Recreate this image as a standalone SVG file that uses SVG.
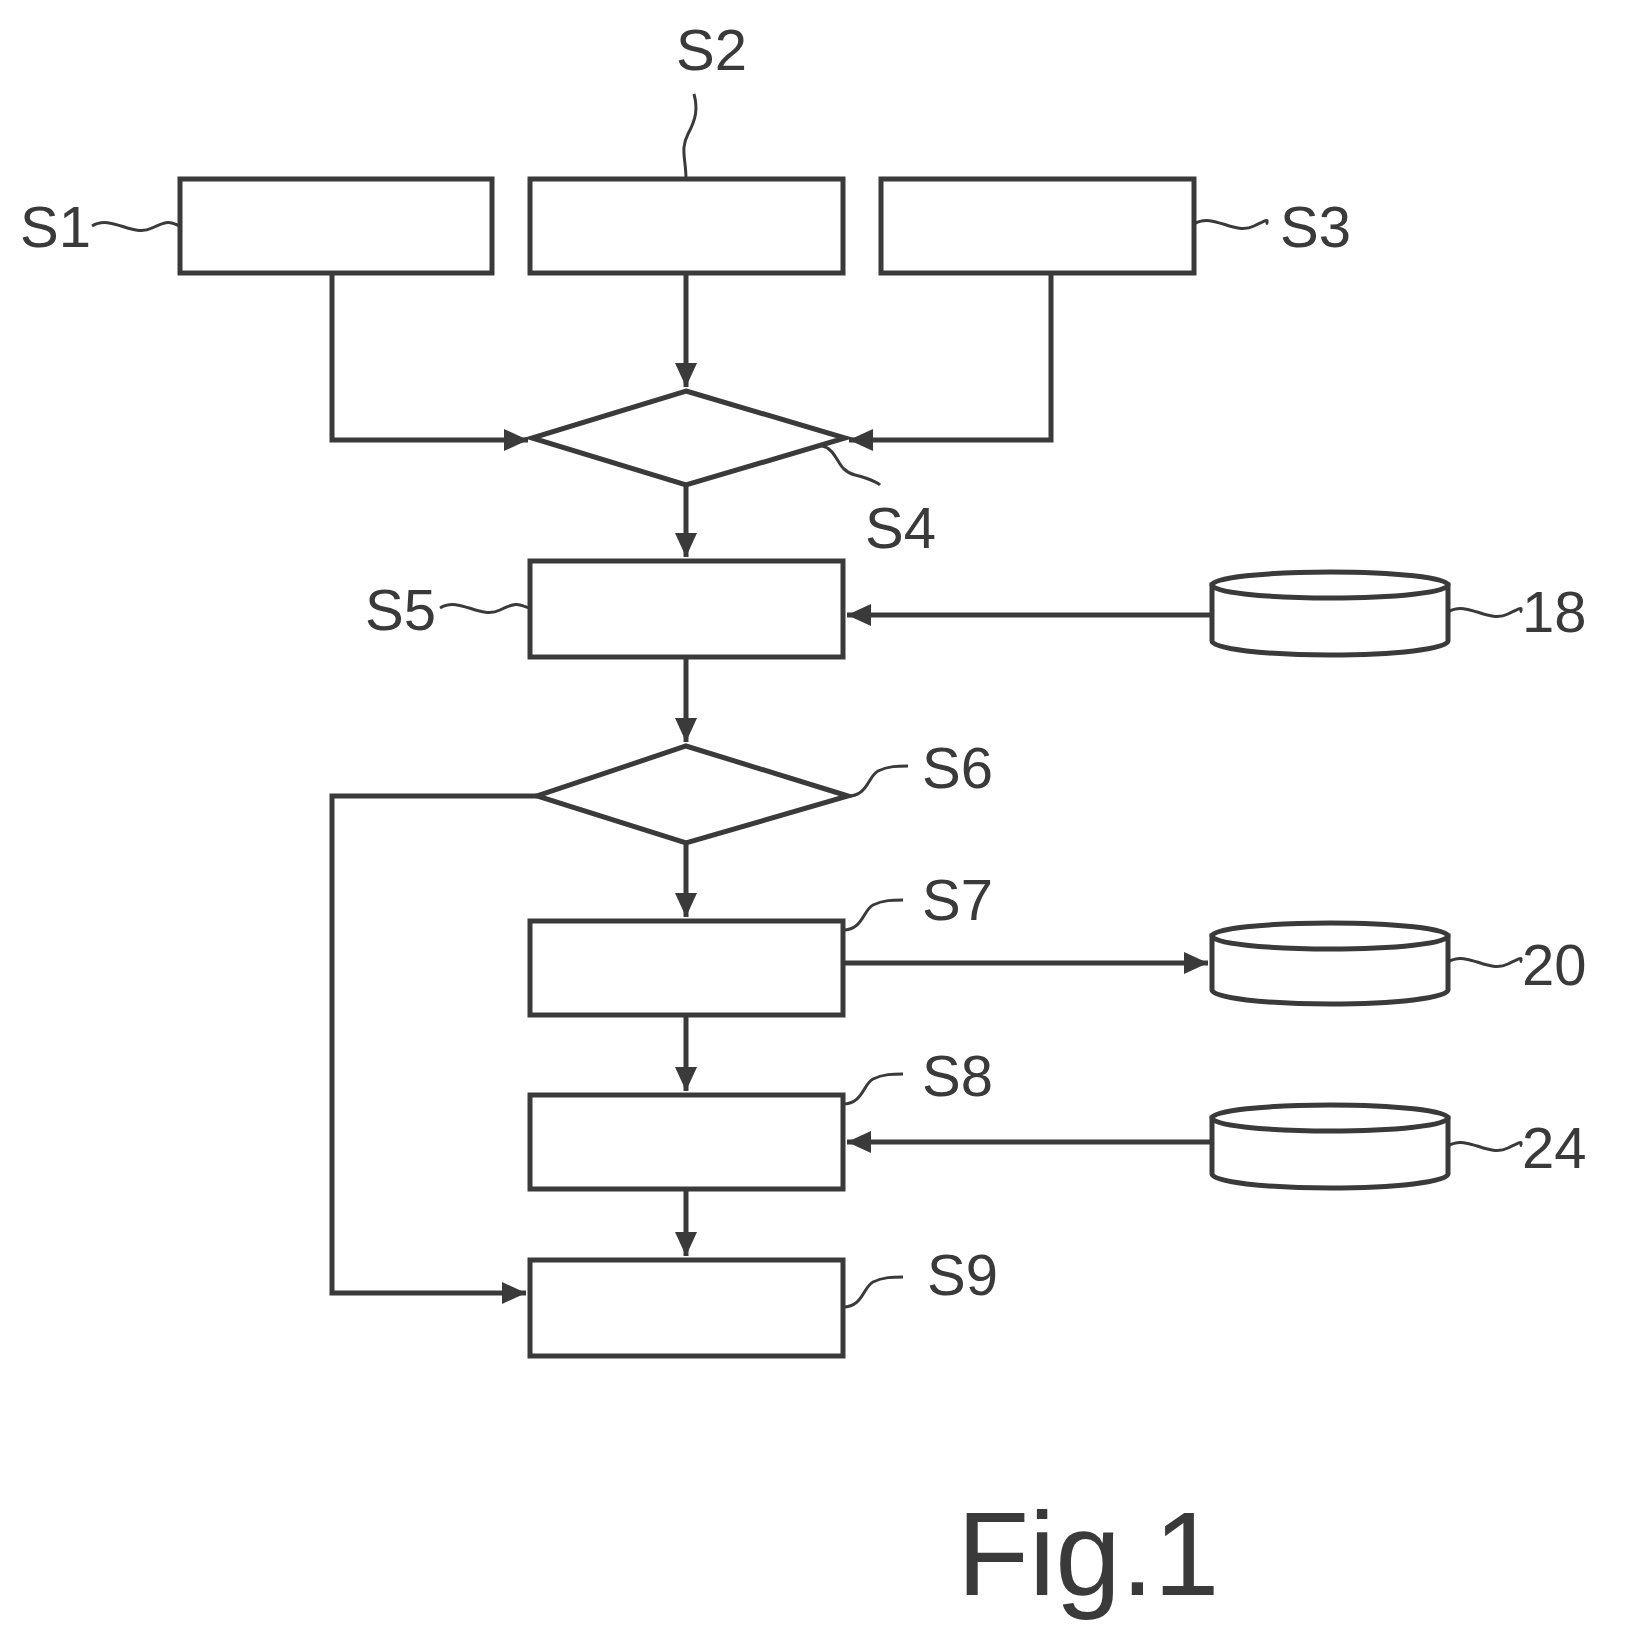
<svg xmlns="http://www.w3.org/2000/svg" width="1627" height="1651" viewBox="0 0 1627 1651">
<defs>
<style>
.n{fill:#fff;stroke:#3a3a3a;stroke-width:5}
.c{fill:none;stroke:#3a3a3a;stroke-width:5}
.l{fill:none;stroke:#3a3a3a;stroke-width:3}
.t{font-family:"Liberation Sans",Arial,sans-serif;font-size:58px;fill:#3a3a3a}
</style>
<marker id="a" markerWidth="8" markerHeight="8" refX="7" refY="4" orient="auto" markerUnits="userSpaceOnUse" viewBox="0 0 8 8"><path d="M0,0L8,4L0,8z" fill="#3a3a3a"/></marker>
<marker id="b" markerWidth="26" markerHeight="22" refX="24" refY="11" orient="auto" markerUnits="userSpaceOnUse"><path d="M0,0L24,11L0,22z" fill="#3a3a3a"/></marker>
</defs>
<rect width="1627" height="1651" fill="#fff"/>
<g id="connectors">
<path class="c" d="M332,273V440H528" marker-end="url(#b)"/>
<path class="c" d="M686,273V387" marker-end="url(#b)"/>
<path class="c" d="M1051,273V440H849" marker-end="url(#b)"/>
<path class="c" d="M686,485V557" marker-end="url(#b)"/>
<path class="c" d="M1212,615H847" marker-end="url(#b)"/>
<path class="c" d="M686,657V742" marker-end="url(#b)"/>
<path class="c" d="M686,843V917" marker-end="url(#b)"/>
<path class="c" d="M843,963H1208" marker-end="url(#b)"/>
<path class="c" d="M686,1015V1091" marker-end="url(#b)"/>
<path class="c" d="M1212,1142H847" marker-end="url(#b)"/>
<path class="c" d="M686,1189V1256" marker-end="url(#b)"/>
<path class="c" d="M537,796H332V1293H526" marker-end="url(#b)"/>
</g>
<g id="S1"><rect class="n" x="180" y="179" width="312" height="94"/><path class="l" d="M92,226c20,-12 40,12 60,2s20,-4 28,-2"/><text class="t" x="20" y="247">S1</text></g>
<g id="S2"><rect class="n" x="530" y="179" width="313" height="94"/><path class="l" d="M686,179c0,-20 -6,-30 2,-45s10,-25 6,-40"/><text class="t" x="676" y="70">S2</text></g>
<g id="S3"><rect class="n" x="881" y="179" width="313" height="94"/><path class="l" d="M1194,224c20,-12 40,12 60,2s10,-4 14,-2"/><text class="t" x="1280" y="247">S3</text></g>
<g id="S4"><path class="n" d="M686,391L845,438L686,485L532,438z"/><path class="l" d="M820,445c20,5 15,25 35,30s25,10 25,10"/><text class="t" x="865" y="548">S4</text></g>
<g id="S5"><rect class="n" x="530" y="561" width="313" height="96"/><path class="l" d="M440,608c20,-12 40,12 60,2s20,-4 30,-2"/><text class="t" x="365" y="630">S5</text></g>
<g id="n18"><path class="n" d="M1212,585v56a118,14 0 0 0 236,0v-56z"/><ellipse class="n" cx="1330" cy="585" rx="118" ry="13"/><path class="l" d="M1448,612c20,-12 40,12 60,2s10,-4 14,-2"/><text class="t" x="1522" y="632">18</text></g>
<g id="S6"><path class="n" d="M686,746L848,796L686,843L537,796z"/><path class="l" d="M848,796c20,0 20,-20 30,-25s20,-5 30,-5"/><text class="t" x="922" y="788">S6</text></g>
<g id="S7"><rect class="n" x="530" y="921" width="313" height="94"/><path class="l" d="M843,930c20,0 20,-20 30,-25s20,-5 30,-5"/><text class="t" x="922" y="920">S7</text></g>
<g id="n20"><path class="n" d="M1212,936v54a118,14 0 0 0 236,0v-54z"/><ellipse class="n" cx="1330" cy="936" rx="118" ry="13"/><path class="l" d="M1448,962c20,-12 40,12 60,2s10,-4 14,-2"/><text class="t" x="1522" y="985">20</text></g>
<g id="S8"><rect class="n" x="530" y="1095" width="313" height="94"/><path class="l" d="M843,1104c20,0 20,-20 30,-25s20,-5 30,-5"/><text class="t" x="922" y="1096">S8</text></g>
<g id="n24"><path class="n" d="M1212,1118v56a118,14 0 0 0 236,0v-56z"/><ellipse class="n" cx="1330" cy="1118" rx="118" ry="13"/><path class="l" d="M1448,1146c20,-12 40,12 60,2s10,-4 14,-2"/><text class="t" x="1522" y="1168">24</text></g>
<g id="S9"><rect class="n" x="530" y="1260" width="313" height="96"/><path class="l" d="M843,1307c20,0 20,-20 30,-25s20,-5 30,-5"/><text class="t" x="927" y="1295">S9</text></g>
<text class="t" x="957" y="1595" style="font-size:118px">Fig.1</text>
</svg>
